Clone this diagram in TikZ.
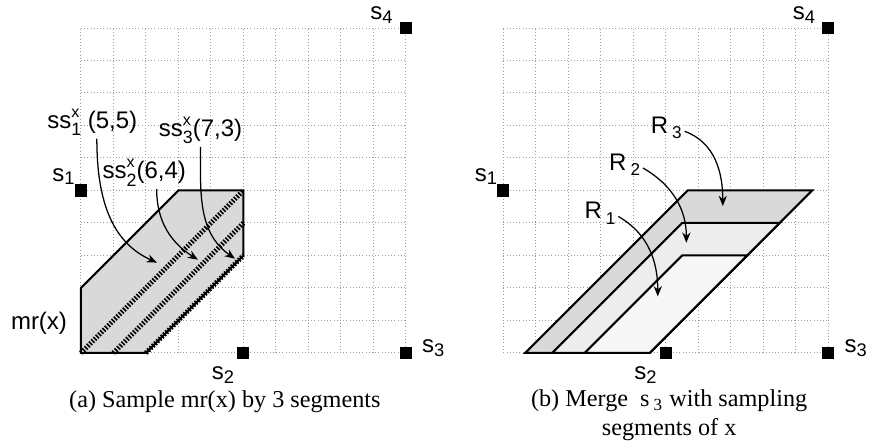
\documentclass[tikz,border=0pt]{standalone}
\usepackage{fontspec}
\setmainfont{Liberation Serif}
\setsansfont{Liberation Sans}
\usetikzlibrary{arrows.meta}

% lowered and raised small indices
\newcommand{\lowidx}[1]{\raisebox{-0.15em}{\fontsize{8}{9}\selectfont #1}}
\newcommand{\regidx}[1]{\raisebox{-0.22em}{\fontsize{7.5}{8}\selectfont #1}}
\newcommand{\sampidx}[2]{\rlap{\raisebox{0.46em}{\fontsize{7}{8}\selectfont #2}}\raisebox{-0.32em}{\fontsize{7.8}{9}\selectfont #1}}

\begin{document}
\begin{tikzpicture}[
    x = 0.5cm, y = 0.5cm, % one grid cell
    > = {Stealth[length=4.5pt,width=3.6pt]}, % arrow head style
    semithick, % line style
    font = \sffamily\fontsize{10.5}{12}\selectfont
]
\tikzstyle{grid line}=[gray!75, densely dotted, thin]
\tikzstyle{site}=[fill=black, minimum size=5.3pt, inner sep=0pt]
\tikzstyle{region}=[draw=black, line width=0.9pt]
\tikzstyle{segment}=[line width=2.2pt, dash pattern=on 0.7pt off 0.7pt]
\tikzstyle{pointer}=[->, line width=0.55pt]
\tikzstyle{tag}=[inner sep=1pt]
\tikzstyle{caption}=[font=\rmfamily\fontsize{10.6}{13}\selectfont, align=center]

\useasboundingbox (-2.49,-2.92) rectangle (24.28,10.86);

% grids of both panels
\foreach \ox in {0,13}
    \draw[grid line, shift={(\ox,0)}, step=0.5cm] (0,0) grid (10,10);

% (a) mr(x) and its sampling segments
\draw[region, fill=black!15] (0,0) -- (0,2) -- (3,5) -- (5,5) -- (5,3) -- (2,0) -- cycle;
\draw[segment] (0,0) -- (5,5);
\draw[segment] (1,0) -- (5,4);
\draw[segment] (2,0) -- (5,3);

\node[tag] (ss1) at (0.35,7.1) {ss\sampidx{1}{x} (5,5)};
\node[tag] (ss2) at (1.95,5.55) {ss\sampidx{2}{x}(6,4)};
\node[tag] (ss3) at (3.68,6.85) {ss\sampidx{3}{x}(7,3)};
\node (mr) at (-1.29,0.92) {mr(x)};

\coordinate (t1) at (2.34,2.78);
\coordinate (t2) at (3.6,2.87);
\coordinate (t3) at (4.74,2.9);

\draw[pointer] ([xshift=0.07cm]ss1.south) to[out=-90, in=156] (t1);
\draw[pointer] ([xshift=0.19cm]ss2.south) to[out=-90, in=148] (t2);
\draw[pointer] (ss3.south) to[out=-90, in=145] (t3);

% (b) merged regions
\begin{scope}[shift={(13,0)}]
\draw[region, fill=black!15] (0.67,0) -- (5.67,5) -- (9.5,5) -- (4.5,0) -- cycle;
\draw[region, fill=black!7] (1.5,0) -- (5.5,4) -- (8.5,4) -- (4.5,0) -- cycle;
\draw[region, fill=black!3] (2.5,0) -- (5.5,3) -- (7.5,3) -- (4.5,0) -- cycle;

\node[tag] (R3) at (5.01,6.92) {R\,\regidx{3}};
\node[tag] (R2) at (3.73,5.79) {R\,\regidx{2}};
\node[tag] (R1) at (2.97,4.3) {R\,\regidx{1}};

\coordinate (u3) at (6.75,4.52);
\coordinate (u2) at (5.63,3.39);
\coordinate (u1) at (4.75,1.74);

\draw[pointer] ([yshift=-0.05cm]R3.east) to[out=-20, in=90] (u3);
\draw[pointer] ([yshift=-0.05cm]R2.east) to[out=-30, in=90] (u2);
\draw[pointer] ([yshift=-0.05cm]R1.east) to[out=-30, in=90] (u1);
\end{scope}

% sites of both panels
\foreach \ox/\p in {0/a,13/b} {
    \begin{scope}[shift={(\ox,0)}]
    \node[site] (s1\p) at (0,5) {};
    \node[site] (s2\p) at (5,0) {};
    \node[site] (s3\p) at (10,0) {};
    \node[site] (s4\p) at (10,10) {};
    \node (l1\p) at (-0.54,5.43) {s\lowidx{1}};
    \node (l2\p) at (4.37,-0.68) {s\lowidx{2}};
    \node (l3\p) at (10.84,0.14) {s\lowidx{3}};
    \node (l4\p) at (9.25,10.4) {s\lowidx{4}};
    \end{scope}
}

\node[caption] (capa) at (4.43,-1.51) {(a) Sample mr(x) by 3 segments};
\node[caption] (capb) at (18.1,-1.92) {(b) Merge\ \ s\,\textsubscript{3} with sampling\\segments of x};

\end{tikzpicture}
\end{document}
